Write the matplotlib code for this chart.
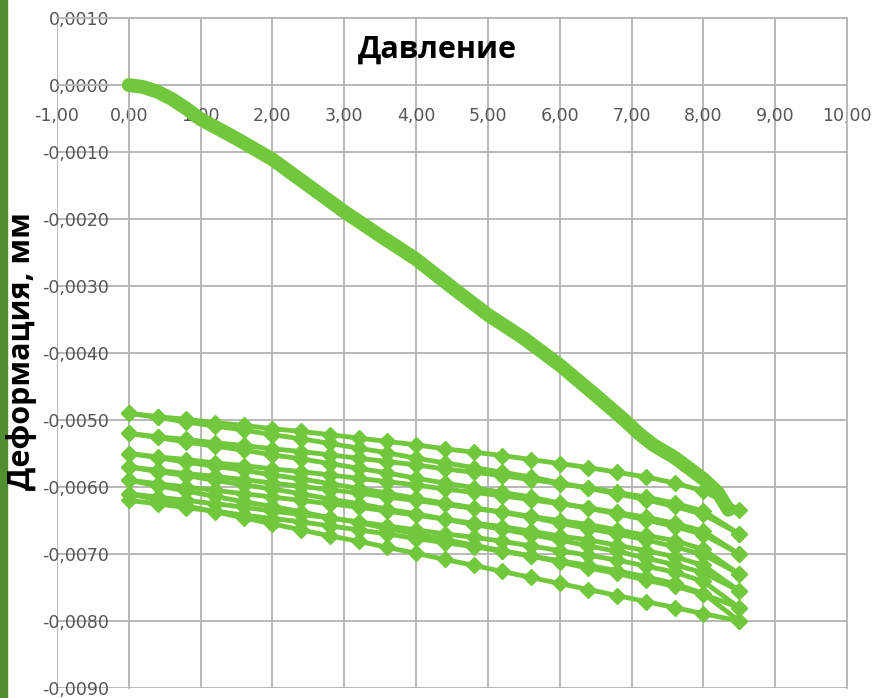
import matplotlib
matplotlib.use("Agg")
import matplotlib.pyplot as plt
from matplotlib.patches import Rectangle
from matplotlib.ticker import FuncFormatter, MultipleLocator

# первое нагружение
load_p = [0.0, 0.2, 0.4, 0.6, 0.8, 1.0, 1.5, 2.0, 2.5, 3.0, 3.5, 4.0, 4.5, 5.0,
          5.5, 6.0, 6.5, 6.9, 7.1, 7.3, 7.6, 8.0, 8.2, 8.35]
load_d = [0.0, -0.00003, -0.00010, -0.00021, -0.00035, -0.00051, -0.00080, -0.00111,
          -0.00150, -0.00189, -0.00225, -0.00260, -0.00302, -0.00343, -0.00378, -0.00418,
          -0.00463, -0.00500, -0.00520, -0.00537, -0.00556, -0.00588, -0.00608, -0.00634]

# циклы разгрузки / повторного нагружения
cycle_p = [0.0, 0.4, 0.8, 1.2, 1.6, 2.0, 2.4, 2.8, 3.2, 3.6, 4.0, 4.4, 4.8, 5.2,
           5.6, 6.0, 6.4, 6.8, 7.2, 7.6, 8.0, 8.5]

unload_1 = [-0.00490, -0.00495, -0.00499, -0.00504, -0.00508, -0.00513, -0.00517, -0.00522,
            -0.00527, -0.00532, -0.00537, -0.00543, -0.00548, -0.00553, -0.00559, -0.00565,
            -0.00571, -0.00578, -0.00585, -0.00594, -0.00606, -0.00634]
reload_1 = [-0.00490, -0.00496, -0.00503, -0.00509, -0.00515, -0.00522, -0.00528, -0.00535,
            -0.00542, -0.00549, -0.00557, -0.00564, -0.00571, -0.00578, -0.00585, -0.00594,
            -0.00602, -0.00610, -0.00619, -0.00629, -0.00641, -0.00670]
unload_2 = [-0.00520, -0.00525, -0.00529, -0.00534, -0.00538, -0.00543, -0.00547, -0.00552,
            -0.00557, -0.00562, -0.00567, -0.00573, -0.00578, -0.00583, -0.00589, -0.00595,
            -0.00601, -0.00608, -0.00615, -0.00624, -0.00636, -0.00670]
reload_2 = [-0.00520, -0.00526, -0.00533, -0.00539, -0.00545, -0.00552, -0.00558, -0.00565,
            -0.00572, -0.00579, -0.00587, -0.00594, -0.00601, -0.00608, -0.00615, -0.00624,
            -0.00632, -0.00640, -0.00649, -0.00659, -0.00671, -0.00700]
unload_3 = [-0.00550, -0.00555, -0.00559, -0.00564, -0.00568, -0.00573, -0.00577, -0.00582,
            -0.00587, -0.00592, -0.00597, -0.00603, -0.00608, -0.00613, -0.00619, -0.00625,
            -0.00631, -0.00638, -0.00645, -0.00654, -0.00666, -0.00700]
reload_3 = [-0.00550, -0.00556, -0.00563, -0.00569, -0.00575, -0.00582, -0.00588, -0.00595,
            -0.00602, -0.00609, -0.00617, -0.00624, -0.00631, -0.00638, -0.00645, -0.00654,
            -0.00662, -0.00670, -0.00679, -0.00689, -0.00701, -0.00730]
unload_4 = [-0.00570, -0.00575, -0.00580, -0.00584, -0.00589, -0.00594, -0.00599, -0.00604,
            -0.00609, -0.00615, -0.00620, -0.00626, -0.00632, -0.00637, -0.00644, -0.00650,
            -0.00656, -0.00664, -0.00672, -0.00680, -0.00693, -0.00730]
reload_4 = [-0.00570, -0.00577, -0.00583, -0.00590, -0.00597, -0.00603, -0.00610, -0.00618,
            -0.00625, -0.00633, -0.00640, -0.00648, -0.00656, -0.00663, -0.00671, -0.00679,
            -0.00688, -0.00696, -0.00706, -0.00716, -0.00728, -0.00755]
unload_5 = [-0.00590, -0.00595, -0.00600, -0.00605, -0.00610, -0.00615, -0.00620, -0.00625,
            -0.00630, -0.00636, -0.00642, -0.00648, -0.00654, -0.00659, -0.00666, -0.00673,
            -0.00679, -0.00687, -0.00695, -0.00704, -0.00717, -0.00755]
reload_5 = [-0.00590, -0.00598, -0.00606, -0.00614, -0.00622, -0.00629, -0.00637, -0.00646,
            -0.00653, -0.00662, -0.00670, -0.00678, -0.00687, -0.00695, -0.00703, -0.00712,
            -0.00721, -0.00729, -0.00739, -0.00748, -0.00760, -0.00780]
unload_6 = [-0.00610, -0.00615, -0.00620, -0.00625, -0.00630, -0.00636, -0.00641, -0.00646,
            -0.00652, -0.00658, -0.00664, -0.00670, -0.00675, -0.00681, -0.00688, -0.00695,
            -0.00702, -0.00709, -0.00718, -0.00727, -0.00741, -0.00780]
reload_6 = [-0.00610, -0.00619, -0.00628, -0.00637, -0.00646, -0.00655, -0.00664, -0.00673,
            -0.00681, -0.00690, -0.00699, -0.00708, -0.00717, -0.00726, -0.00735, -0.00744,
            -0.00753, -0.00762, -0.00771, -0.00780, -0.00789, -0.00800]
unload_7 = [-0.00620, -0.00625, -0.00631, -0.00636, -0.00642, -0.00647, -0.00652, -0.00658,
            -0.00664, -0.00670, -0.00677, -0.00683, -0.00689, -0.00696, -0.00703, -0.00710,
            -0.00717, -0.00725, -0.00734, -0.00744, -0.00759, -0.00800]

cycles = [unload_1, reload_1, unload_2, reload_2, unload_3, reload_3, unload_4,
          reload_4, unload_5, reload_5, unload_6, reload_6, unload_7]

GREEN = '#72c83c'
GRID = '#b8b8b8'
TICK = '#555555'


def comma(fmt):
    def f(v, pos):
        if abs(v) < 1e-12:
            v = 0.0
        return fmt.format(v).replace('.', ',')
    return FuncFormatter(f)


def main():
    fig = plt.figure(figsize=(8.79, 6.98), dpi=100)
    ax = fig.add_axes([0.0648, 0.0143, 0.8988, 0.9599])

    ax.set_xlim(-1, 10)
    ax.set_ylim(-0.009, 0.001)
    ax.xaxis.set_major_locator(MultipleLocator(1))
    ax.yaxis.set_major_locator(MultipleLocator(0.001))
    ax.xaxis.set_major_formatter(comma('{:.2f}'))
    ax.yaxis.set_major_formatter(comma('{:.4f}'))
    ax.grid(True, color=GRID, linewidth=1.4)
    ax.set_axisbelow(True)

    # оси пересекаются в нуле
    ax.spines['left'].set_position(('data', 0))
    ax.spines['bottom'].set_position(('data', 0))
    for s in ax.spines.values():
        s.set_color(GRID)
        s.set_linewidth(1.4)
    ax.tick_params(axis='x', length=0, pad=16, labelsize=12.5, labelcolor=TICK)
    ax.tick_params(axis='y', length=0, pad=14, labelsize=12.5, labelcolor=TICK)

    for d in cycles:
        ax.plot(cycle_p, d, color=GREEN, linewidth=3.5, marker='D', markersize=8,
                markeredgecolor=GREEN, solid_joinstyle='round', zorder=3)
    # нагружение - сплошная толстая линия (точки очень часто)
    ax.plot(load_p, load_d, color=GREEN, linewidth=10,
            solid_capstyle='round', solid_joinstyle='round', zorder=4)

    fig.text(437 / 879, 1 - 50 / 698, 'Давление', ha='center', va='center',
             fontsize=22, fontweight='bold', family=['Open Sans', 'DejaVu Sans'])
    fig.text(22 / 879, 1 - 351 / 698, 'Деформация, мм', ha='center', va='center',
             rotation=90, fontsize=22, fontweight='bold',
             family=['Open Sans', 'DejaVu Sans'])

    # зелёная полоса слева
    fig.patches.append(Rectangle((0, 0), 7 / 879, 1, transform=fig.transFigure,
                                 color='#4f8f2f', zorder=0))

    fig.savefig('out.png', dpi=100)


if __name__ == '__main__':
    main()
